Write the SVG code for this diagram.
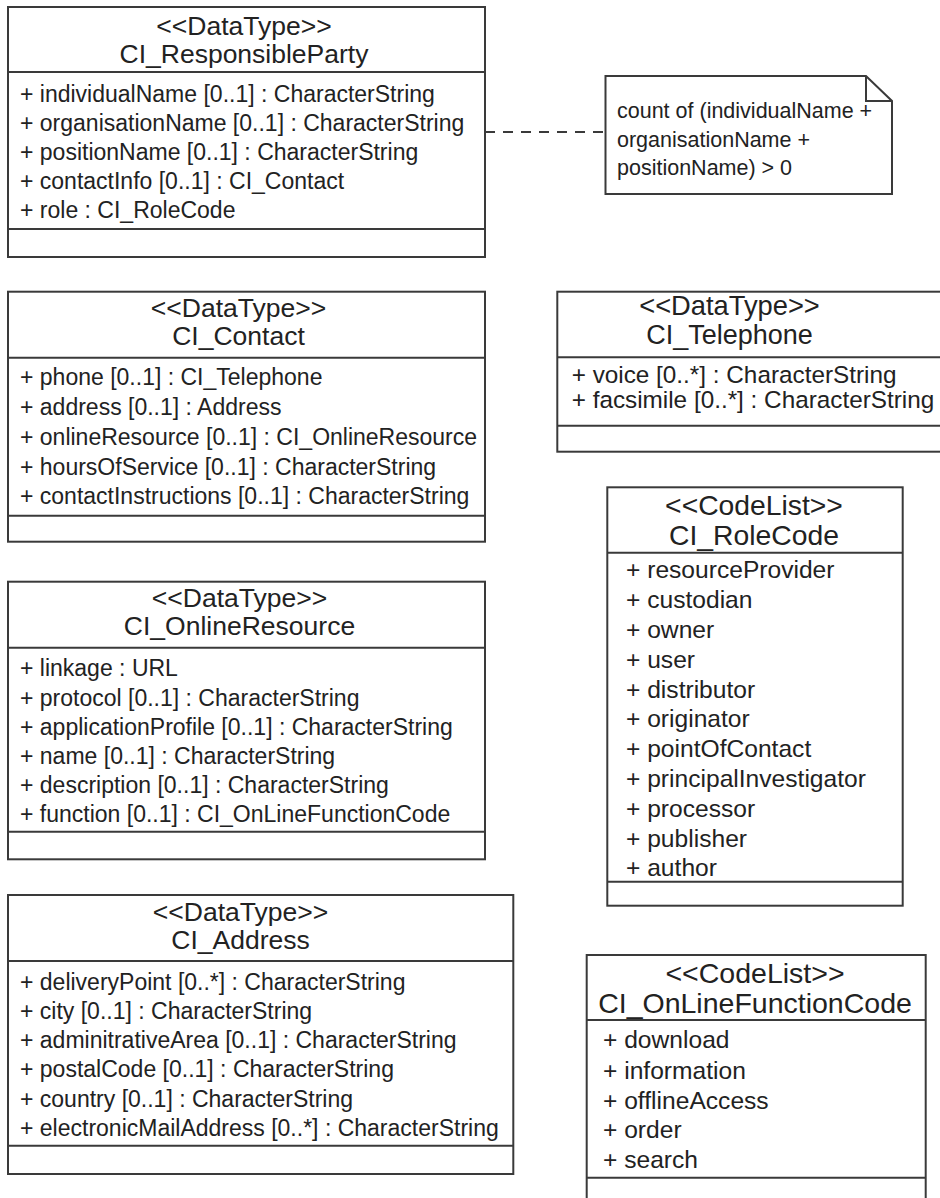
<svg xmlns="http://www.w3.org/2000/svg" width="940" height="1198" viewBox="0 0 940 1198">
<style>
  .box { fill: #ffffff; stroke: #3a3a3a; stroke-width: 2; }
  .div { stroke: #3a3a3a; stroke-width: 2; fill: none; }
  text { font-family: "Liberation Sans", Arial, sans-serif; fill: #222222; }
  .hdL { font-size: 26.5px; text-anchor: middle; }
  .hdR { font-size: 28.3px; text-anchor: middle; }
  .atL { font-size: 23px; }
  .atR { font-size: 24.6px; }
  .note { font-size: 21.5px; }
  .dash { stroke: #3a3a3a; stroke-width: 2; stroke-dasharray: 10 8; fill: none; }
</style>
<rect x="0" y="0" width="940" height="1198" fill="#ffffff"/>

<g id="connectors">
  <line class="dash" x1="485" y1="132" x2="605.5" y2="132"/>
</g>

<g id="CI_ResponsibleParty">
  <rect class="box" x="8" y="7" width="477" height="250"/>
  <line class="div" x1="8" y1="72" x2="485" y2="72"/>
  <line class="div" x1="8" y1="229" x2="485" y2="229"/>
  <text class="hdL" x="244" y="35">&lt;&lt;DataType&gt;&gt;</text>
  <text class="hdL" x="244" y="63">CI_ResponsibleParty</text>
  <text class="atL" x="20" y="101.7">+ individualName [0..1] : CharacterString</text>
  <text class="atL" x="20" y="130.7">+ organisationName [0..1] : CharacterString</text>
  <text class="atL" x="20" y="160">+ positionName [0..1] : CharacterString</text>
  <text class="atL" x="20" y="189">+ contactInfo [0..1] : CI_Contact</text>
  <text class="atL" x="20" y="218.3">+ role : CI_RoleCode</text>
</g>

<g id="note">
  <path class="box" d="M605.5,76 L866,76 L892,101 L892,194 L605.5,194 Z"/>
  <path class="div" d="M866,76 L866,101 L892,101"/>
  <text class="note" x="617" y="118.3">count of (individualName +</text>
  <text class="note" x="617" y="146.7">organisationName +</text>
  <text class="note" x="617" y="175">positionName) &gt; 0</text>
</g>

<g id="CI_Contact">
  <rect class="box" x="8" y="291.7" width="477" height="250"/>
  <line class="div" x1="8" y1="357.7" x2="485" y2="357.7"/>
  <line class="div" x1="8" y1="515.7" x2="485" y2="515.7"/>
  <text class="hdL" x="238.5" y="316.7">&lt;&lt;DataType&gt;&gt;</text>
  <text class="hdL" x="238.5" y="345">CI_Contact</text>
  <text class="atL" x="20" y="385">+ phone [0..1] : CI_Telephone</text>
  <text class="atL" x="20" y="415">+ address [0..1] : Address</text>
  <text class="atL" x="20" y="445">+ onlineResource [0..1] : CI_OnlineResource</text>
  <text class="atL" x="20" y="475">+ hoursOfService [0..1] : CharacterString</text>
  <text class="atL" x="20" y="504">+ contactInstructions [0..1] : CharacterString</text>
</g>

<g id="CI_Telephone">
  <rect class="box" x="557.3" y="291.7" width="400" height="160"/>
  <line class="div" x1="557.3" y1="357.3" x2="957" y2="357.3"/>
  <line class="div" x1="557.3" y1="425.7" x2="957" y2="425.7"/>
  <text class="hdL" x="729.5" y="315" style="font-size:27.3px">&lt;&lt;DataType&gt;&gt;</text>
  <text class="hdL" x="729.5" y="344.3" style="font-size:27px">CI_Telephone</text>
  <text class="atR" x="571.7" y="383.3" style="font-size:24.3px">+ voice [0..*] : CharacterString</text>
  <text class="atR" x="571.7" y="408.3" style="font-size:24.3px">+ facsimile [0..*] : CharacterString</text>
</g>

<g id="CI_RoleCode">
  <rect class="box" x="607.3" y="487.3" width="295.4" height="418.4"/>
  <line class="div" x1="607.3" y1="552.7" x2="902.7" y2="552.7"/>
  <line class="div" x1="607.3" y1="881.7" x2="902.7" y2="881.7"/>
  <text class="hdR" x="754" y="515">&lt;&lt;CodeList&gt;&gt;</text>
  <text class="hdR" x="754" y="545">CI_RoleCode</text>
  <text class="atR" x="626" y="578.3">+ resourceProvider</text>
  <text class="atR" x="626" y="608.1">+ custodian</text>
  <text class="atR" x="626" y="637.9">+ owner</text>
  <text class="atR" x="626" y="667.7">+ user</text>
  <text class="atR" x="626" y="697.5">+ distributor</text>
  <text class="atR" x="626" y="727.3">+ originator</text>
  <text class="atR" x="626" y="757.1">+ pointOfContact</text>
  <text class="atR" x="626" y="786.9">+ principalInvestigator</text>
  <text class="atR" x="626" y="816.7">+ processor</text>
  <text class="atR" x="626" y="846.5">+ publisher</text>
  <text class="atR" x="626" y="876.3">+ author</text>
</g>

<g id="CI_OnlineResource">
  <rect class="box" x="8" y="581.7" width="477" height="277.6"/>
  <line class="div" x1="8" y1="647.7" x2="485" y2="647.7"/>
  <line class="div" x1="8" y1="831.7" x2="485" y2="831.7"/>
  <text class="hdL" x="239.5" y="606.7">&lt;&lt;DataType&gt;&gt;</text>
  <text class="hdL" x="239.5" y="635">CI_OnlineResource</text>
  <text class="atL" x="20" y="676">+ linkage : URL</text>
  <text class="atL" x="20" y="705.5">+ protocol [0..1] : CharacterString</text>
  <text class="atL" x="20" y="734.5">+ applicationProfile [0..1] : CharacterString</text>
  <text class="atL" x="20" y="763.5">+ name [0..1] : CharacterString</text>
  <text class="atL" x="20" y="793">+ description [0..1] : CharacterString</text>
  <text class="atL" x="20" y="822.3">+ function [0..1] : CI_OnLineFunctionCode</text>
</g>

<g id="CI_Address">
  <rect class="box" x="8" y="895" width="505.3" height="279"/>
  <line class="div" x1="8" y1="961" x2="513.3" y2="961"/>
  <line class="div" x1="8" y1="1145.7" x2="513.3" y2="1145.7"/>
  <text class="hdL" x="240.5" y="920.7">&lt;&lt;DataType&gt;&gt;</text>
  <text class="hdL" x="240.5" y="949">CI_Address</text>
  <text class="atL" x="20" y="990">+ deliveryPoint [0..*] : CharacterString</text>
  <text class="atL" x="20" y="1019">+ city [0..1] : CharacterString</text>
  <text class="atL" x="20" y="1048">+ adminitrativeArea [0..1] : CharacterString</text>
  <text class="atL" x="20" y="1077.3">+ postalCode [0..1] : CharacterString</text>
  <text class="atL" x="20" y="1106.7">+ country [0..1] : CharacterString</text>
  <text class="atL" x="20" y="1136">+ electronicMailAddress [0..*] : CharacterString</text>
</g>

<g id="CI_OnLineFunctionCode">
  <rect class="box" x="586.7" y="955" width="339" height="260"/>
  <line class="div" x1="586.7" y1="1020" x2="925.7" y2="1020"/>
  <line class="div" x1="586.7" y1="1177.7" x2="925.7" y2="1177.7"/>
  <text class="hdR" x="755" y="983.3" style="font-size:28.5px">&lt;&lt;CodeList&gt;&gt;</text>
  <text class="hdR" x="755" y="1013.3" style="font-size:28.5px">CI_OnLineFunctionCode</text>
  <text class="atR" x="603" y="1048.3">+ download</text>
  <text class="atR" x="603" y="1079.3">+ information</text>
  <text class="atR" x="603" y="1109.3">+ offlineAccess</text>
  <text class="atR" x="603" y="1138.3">+ order</text>
  <text class="atR" x="603" y="1168.3">+ search</text>
</g>
</svg>
